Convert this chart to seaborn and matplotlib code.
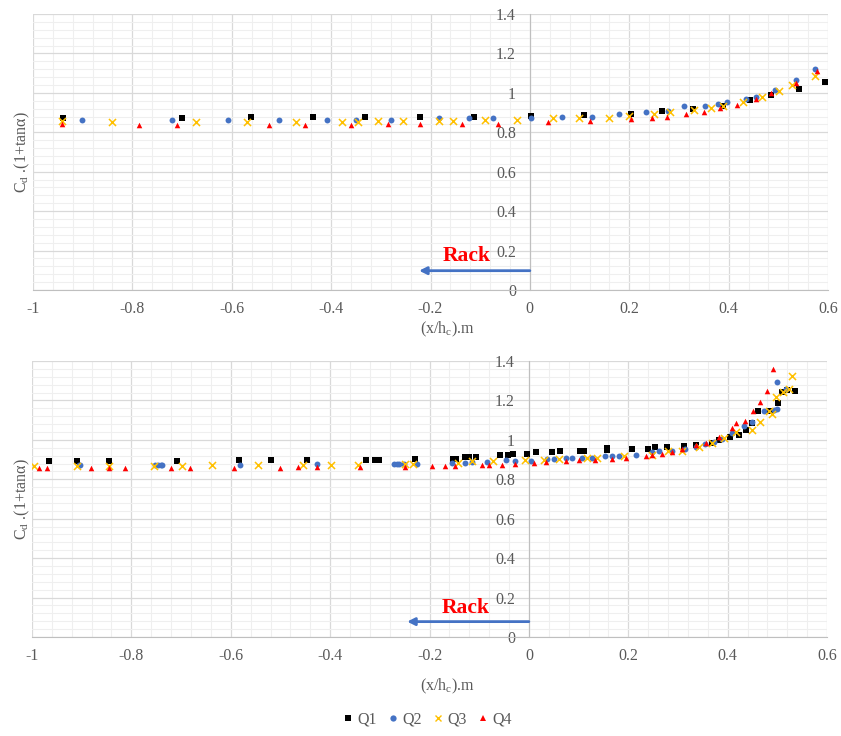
import matplotlib
matplotlib.use("Agg")
import matplotlib.pyplot as plt
from matplotlib.ticker import MultipleLocator, FuncFormatter
from matplotlib.lines import Line2D
import pandas as pd
import seaborn as sns

# ---- measured data: upper panel ----
q1_x_top = [-0.939, -0.700, -0.561, -0.437, -0.331, -0.221, -0.112, 0.002, 0.108, 0.203,
            0.265, 0.328, 0.388, 0.444, 0.485, 0.541, 0.594]
q1_y_top = [0.872, 0.872, 0.878, 0.878, 0.878, 0.877, 0.878, 0.883, 0.888, 0.895,
            0.907, 0.917, 0.932, 0.966, 0.988, 1.022, 1.056]

q2_x_top = [-0.902, -0.720, -0.608, -0.504, -0.409, -0.349, -0.279, -0.182, -0.122, -0.074,
            0.002, 0.065, 0.125, 0.180, 0.233, 0.277, 0.311, 0.352, 0.379, 0.397,
            0.435, 0.456, 0.494, 0.535, 0.574]
q2_y_top = [0.863, 0.863, 0.864, 0.863, 0.863, 0.864, 0.863, 0.870, 0.870, 0.870,
            0.875, 0.880, 0.880, 0.892, 0.902, 0.909, 0.931, 0.931, 0.942, 0.954,
            0.970, 0.981, 1.015, 1.064, 1.119]

q3_x_top = [-0.942, -0.842, -0.672, -0.569, -0.471, -0.379, -0.345, -0.306, -0.255, -0.182,
            -0.155, -0.090, -0.025, 0.047, 0.099, 0.159, 0.199, 0.250, 0.283, 0.330,
            0.364, 0.389, 0.428, 0.467, 0.502, 0.527, 0.574]
q3_y_top = [0.855, 0.851, 0.851, 0.851, 0.851, 0.851, 0.851, 0.856, 0.856, 0.859,
            0.859, 0.863, 0.863, 0.870, 0.870, 0.875, 0.885, 0.893, 0.904, 0.914,
            0.924, 0.931, 0.956, 0.978, 1.011, 1.041, 1.085]

q4_x_top = [-0.942, -0.786, -0.711, -0.526, -0.453, -0.361, -0.285, -0.222, -0.137, -0.064,
            0.036, 0.122, 0.203, 0.246, 0.276, 0.314, 0.350, 0.383, 0.417, 0.455,
            0.485, 0.535, 0.578]
q4_y_top = [0.843, 0.836, 0.836, 0.836, 0.836, 0.836, 0.843, 0.843, 0.843, 0.843,
            0.850, 0.856, 0.866, 0.871, 0.880, 0.893, 0.905, 0.925, 0.937, 0.971,
            1.000, 1.051, 1.110]

# ---- measured data: lower panel ----
q1_x_bot = [-0.965, -0.910, -0.846, -0.709, -0.583, -0.519, -0.446, -0.327, -0.310, -0.302,
            -0.230, -0.152, -0.146, -0.128, -0.121, -0.106, -0.058, -0.042, -0.032, -0.003,
            0.015, 0.047, 0.062, 0.103, 0.111, 0.158, 0.158, 0.208, 0.239, 0.254,
            0.278, 0.312, 0.336, 0.368, 0.383, 0.405, 0.423, 0.436, 0.450, 0.462,
            0.486, 0.501, 0.510, 0.519, 0.536]
q1_y_bot = [0.893, 0.893, 0.893, 0.893, 0.900, 0.900, 0.900, 0.900, 0.900, 0.900,
            0.905, 0.905, 0.905, 0.912, 0.912, 0.912, 0.922, 0.922, 0.929, 0.929,
            0.936, 0.936, 0.941, 0.941, 0.941, 0.949, 0.958, 0.956, 0.956, 0.963,
            0.966, 0.970, 0.976, 0.986, 0.997, 1.014, 1.027, 1.051, 1.084, 1.145,
            1.145, 1.186, 1.243, 1.253, 1.250]

q2_x_bot = [-0.906, -0.903, -0.752, -0.747, -0.741, -0.738, -0.582, -0.426, -0.271, -0.266,
            -0.261, -0.251, -0.226, -0.154, -0.129, -0.114, -0.084, -0.046, -0.028, 0.005,
            0.037, 0.050, 0.074, 0.087, 0.107, 0.128, 0.154, 0.168, 0.181, 0.215,
            0.248, 0.262, 0.289, 0.315, 0.336, 0.354, 0.372, 0.389, 0.409, 0.433,
            0.450, 0.473, 0.493, 0.500, 0.500, 0.517]
q2_y_bot = [0.875, 0.873, 0.873, 0.873, 0.873, 0.873, 0.873, 0.878, 0.879, 0.879,
            0.879, 0.879, 0.879, 0.885, 0.885, 0.889, 0.889, 0.899, 0.893, 0.893,
            0.902, 0.905, 0.910, 0.910, 0.907, 0.910, 0.919, 0.919, 0.919, 0.922,
            0.936, 0.941, 0.943, 0.953, 0.966, 0.980, 0.990, 1.003, 1.034, 1.071,
            1.091, 1.144, 1.152, 1.155, 1.292, 1.257]

q3_x_bot = [-0.995, -0.909, -0.846, -0.755, -0.699, -0.638, -0.545, -0.454, -0.399, -0.344,
            -0.250, -0.233, -0.142, -0.114, -0.072, -0.008, 0.030, 0.060, 0.117, 0.138,
            0.191, 0.248, 0.279, 0.309, 0.342, 0.369, 0.393, 0.416, 0.450, 0.466,
            0.483, 0.490, 0.497, 0.511, 0.523, 0.529]
q3_y_bot = [0.869, 0.869, 0.869, 0.869, 0.869, 0.873, 0.873, 0.873, 0.873, 0.873,
            0.878, 0.878, 0.882, 0.892, 0.894, 0.899, 0.899, 0.905, 0.907, 0.907,
            0.916, 0.922, 0.943, 0.943, 0.963, 0.983, 1.007, 1.042, 1.050, 1.092,
            1.144, 1.130, 1.218, 1.241, 1.260, 1.324]

q4_x_bot = [-0.985, -0.969, -0.881, -0.846, -0.813, -0.720, -0.682, -0.594, -0.501, -0.464,
            -0.426, -0.339, -0.250, -0.195, -0.168, -0.148, -0.094, -0.081, -0.054, -0.027,
            0.010, 0.034, 0.074, 0.101, 0.134, 0.168, 0.195, 0.235, 0.248, 0.268,
            0.289, 0.309, 0.336, 0.356, 0.383, 0.409, 0.416, 0.434, 0.452, 0.466,
            0.480, 0.492]
q4_y_bot = [0.857, 0.857, 0.857, 0.857, 0.857, 0.857, 0.857, 0.857, 0.857, 0.862,
            0.862, 0.862, 0.864, 0.868, 0.868, 0.868, 0.872, 0.872, 0.875, 0.878,
            0.885, 0.890, 0.895, 0.899, 0.899, 0.905, 0.907, 0.919, 0.922, 0.929,
            0.939, 0.953, 0.975, 0.986, 1.014, 1.059, 1.088, 1.096, 1.147, 1.194,
            1.248, 1.360]

series_names = ["Q1", "Q2", "Q3", "Q4"]
series_colors = {"Q1": "#000000", "Q2": "#4472C4", "Q3": "#FFC000", "Q4": "#FF0000"}
series_markers = {"Q1": "s", "Q2": "o", "Q3": "x", "Q4": "^"}
series_sizes = {"Q1": 16, "Q2": 18, "Q3": 26, "Q4": 16}

x_ticks = [-1, -0.8, -0.6, -0.4, -0.2, 0, 0.2, 0.4, 0.6]
y_ticks = [0, 0.2, 0.4, 0.6, 0.8, 1.0, 1.2, 1.4]


def long_frame(xs, ys):
    frames = []
    for name, x, y in zip(series_names, xs, ys):
        frames.append(pd.DataFrame({"x": x, "y": y, "series": name}))
    return pd.concat(frames, ignore_index=True)


top_df = long_frame([q1_x_top, q2_x_top, q3_x_top, q4_x_top],
                    [q1_y_top, q2_y_top, q3_y_top, q4_y_top])
bot_df = long_frame([q1_x_bot, q2_x_bot, q3_x_bot, q4_x_bot],
                    [q1_y_bot, q2_y_bot, q3_y_bot, q4_y_bot])

sns.set_style("white")
plt.rcParams["font.family"] = ["Liberation Serif", "DejaVu Serif"]
plt.rcParams["mathtext.fontset"] = "custom"
plt.rcParams["mathtext.rm"] = "Liberation Serif"
plt.rcParams["mathtext.it"] = "Liberation Serif:italic"
plt.rcParams["axes.unicode_minus"] = False

TEXT = "#595959"
W, H = 841, 736
fig = plt.figure(figsize=(W / 100, H / 100), dpi=100)


def fmt(v, _pos):
    s = f"{v:.1f}".rstrip("0").rstrip(".")
    return "0" if s in ("-0", "") else s


def panel(rect, df, arrow_y, arrow_left, rack_xy):
    ax = fig.add_axes(rect)
    for name in series_names:
        sub = df[df["series"] == name]
        kw = dict(linewidth=1.1) if series_markers[name] == "x" else dict(linewidth=0)
        sns.scatterplot(data=sub, x="x", y="y", ax=ax, color=series_colors[name],
                        marker=series_markers[name], s=series_sizes[name],
                        legend=False, zorder=3, **kw)
    ax.set_xlim(-1, 0.6)
    ax.set_ylim(0, 1.4)
    ax.set_xticks(x_ticks)
    ax.set_yticks(y_ticks)
    ax.xaxis.set_minor_locator(MultipleLocator(0.04))
    ax.yaxis.set_minor_locator(MultipleLocator(0.04))
    ax.xaxis.set_major_formatter(FuncFormatter(fmt))
    ax.yaxis.set_major_formatter(FuncFormatter(fmt))
    ax.grid(which="major", color="#d9d9d9", linewidth=0.9)
    ax.grid(which="minor", color="#efefef", linewidth=0.8)
    ax.set_axisbelow(True)
    for side in ("top", "right"):
        ax.spines[side].set_visible(False)
    ax.spines["left"].set_position(("data", 0))
    ax.spines["left"].set_color("#bfbfbf")
    ax.spines["bottom"].set_color("#bfbfbf")
    ax.spines["left"].set_zorder(1)
    ax.tick_params(axis="x", which="major", length=5, color="#bfbfbf", pad=3,
                   labelsize=11.5, labelcolor=TEXT)
    ax.tick_params(axis="y", which="major", length=0, pad=10,
                   labelsize=11.5, labelcolor=TEXT)
    ax.tick_params(which="minor", length=0)
    ax.set_xlabel("")
    ax.set_ylabel("")
    ax.annotate("", xy=(arrow_left, arrow_y), xytext=(0.0, arrow_y),
                arrowprops=dict(arrowstyle="-|>", color="#4472C4", lw=2.0,
                                mutation_scale=11, shrinkA=0, shrinkB=0), zorder=4)
    ax.text(rack_xy[0], rack_xy[1], "Rack", color="#FF0000", fontsize=15.5,
            fontweight="bold", ha="center", va="center", zorder=5)
    return ax


top_rect = [33 / W, 1 - 290 / H, 795 / W, 276 / H]
bot_rect = [32 / W, 1 - 637 / H, 795 / W, 276 / H]
panel(top_rect, top_df, 0.098, -0.223, (-0.127, 0.173))
panel(bot_rect, bot_df, 0.078, -0.245, (-0.128, 0.147))

ylab = r"C$_\mathrm{d}$ .(1+tanα)"
xlab = r"(x/h$_\mathrm{c}$).m"
fig.text(22 / W, 1 - 152 / H, ylab, rotation=90, ha="center", va="center",
         fontsize=11.5, color=TEXT)
fig.text(22 / W, 1 - 499 / H, ylab, rotation=90, ha="center", va="center",
         fontsize=11.5, color=TEXT)
fig.text(447 / W, 1 - 329 / H, xlab, ha="center", va="center", fontsize=11.5, color=TEXT)
fig.text(447 / W, 1 - 686 / H, xlab, ha="center", va="center", fontsize=11.5, color=TEXT)

handles = [Line2D([], [], linestyle="none", marker=series_markers[n],
                  color=series_colors[n], markersize=4.5,
                  markeredgewidth=1.0 if series_markers[n] == "x" else 0)
           for n in series_names]
fig.legend(handles, series_names, loc="center", bbox_to_anchor=(426 / W, 1 - 720 / H),
           ncol=4, frameon=False, handletextpad=0.1, columnspacing=0.5,
           handlelength=1.0, prop={"size": 11.5}, labelcolor=TEXT)

fig.savefig("out.png", dpi=100)
